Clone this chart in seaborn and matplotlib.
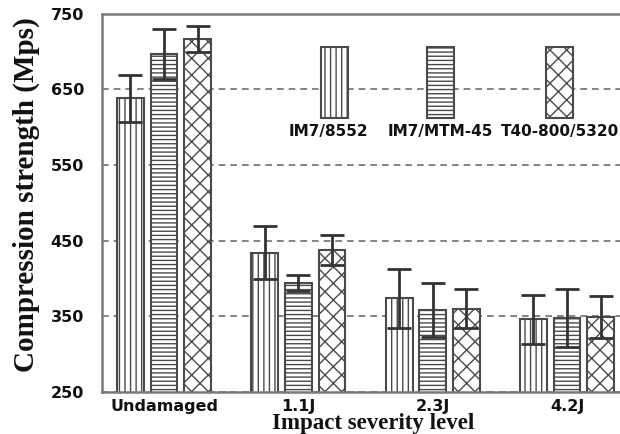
import matplotlib
matplotlib.use("Agg")
import matplotlib.pyplot as plt
from matplotlib.patches import Rectangle
import seaborn as sns
import pandas as pd

# Impact levels and materials
levels = ["Undamaged", "1.1J", "2.3J", "4.2J"]
materials = ["IM7/8552", "IM7/MTM-45", "T40-800/5320"]

# Mean compression strength per material, one value per impact level
im7_8552 = [638, 434, 374, 346]
im7_mtm45 = [697, 394, 358, 348]
t40_5320 = [716, 438, 360, 349]

# Error-bar half widths
im7_8552_err = [31, 35, 39, 32]
im7_mtm45_err = [33, 11, 36, 38]
t40_5320_err = [17, 20, 26, 28]

y_ticks = [250, 350, 450, 550, 650, 750]

means = [im7_8552, im7_mtm45, t40_5320]
errs = [im7_8552_err, im7_mtm45_err, t40_5320_err]
hatches = ["|||", "----", "xx"]

df = pd.DataFrame(
    [(lvl, mat, means[m][i]) for m, mat in enumerate(materials) for i, lvl in enumerate(levels)],
    columns=["level", "material", "strength"],
)

sns.set_style("white")
plt.rcParams["hatch.linewidth"] = 1.0

fig = plt.figure(figsize=(6.2, 4.34), dpi=100)
ax = fig.add_axes([102 / 620, 1 - 392 / 434, 528 / 620, 378.5 / 434])

edge = "#4a4a4a"
sns.barplot(
    data=df, x="level", y="strength", hue="material",
    order=levels, hue_order=materials,
    palette=["white"] * 3, edgecolor=edge, linewidth=1.5,
    width=0.75, gap=0.2, errorbar=None, legend=False, ax=ax, zorder=2,
)

bar_groups = list(ax.containers)
for m, cont in enumerate(bar_groups):
    xs = []
    for bar in cont:
        bar.set_hatch(hatches[m])
        xs.append(bar.get_x() + bar.get_width() / 2)
    ax.errorbar(xs, means[m], yerr=errs[m], fmt="none", ecolor="#333333",
                elinewidth=2, capsize=8.5, capthick=2, zorder=4)

ax.set_ylim(250, 750)
ax.set_xlim(-0.462, 3.469)
ax.set_yticks(y_ticks)
ax.set_yticklabels([str(t) for t in y_ticks])

ax.set_axisbelow(True)
ax.yaxis.grid(True, color="#707070", linestyle=(0, (4, 3)), linewidth=1.2)
ax.xaxis.grid(False)

for s in ax.spines.values():
    s.set_color("#7a7a7a")
    s.set_linewidth(1.8)

ax.tick_params(axis="both", length=0)
ax.tick_params(axis="y", pad=13)
ax.tick_params(axis="x", pad=5)
for lab in ax.get_yticklabels() + ax.get_xticklabels():
    lab.set_fontfamily("DejaVu Sans")
    lab.set_fontweight("bold")
    lab.set_fontsize(11.5)
    lab.set_color("#111111")

ax.set_xlabel("Impact severity level", family="Liberation Serif", fontweight="bold",
              fontsize=16.5, va="top", color="#111111")
ax.xaxis.set_label_coords((373 - 102) / 528, (392 - 413) / 378.5)
ax.set_ylabel("Compression strength (Mps)", family="Liberation Serif", fontweight="bold",
              fontsize=21, va="center", color="#111111")
ax.yaxis.set_label_coords((26 - 102) / 528, (392 - 195) / 378.5)

# Key: tall hatched swatches with names underneath
key_x = [321, 427, 546]
key_lab_x = [328, 440, 560]
for m, mat in enumerate(materials):
    ax.add_patch(Rectangle(((key_x[m] - 102) / 528, (392 - 118) / 378.5),
                           27 / 528, 71 / 378.5, transform=ax.transAxes,
                           facecolor="white", edgecolor=edge, linewidth=1.5,
                           hatch=hatches[m], zorder=5))
    ax.text((key_lab_x[m] - 102) / 528, (392 - 124) / 378.5, mat,
            transform=ax.transAxes, ha="center", va="top",
            family="DejaVu Sans", fontweight="bold", fontsize=11,
            color="#111111", zorder=6)

fig.savefig("out.png", dpi=100)
